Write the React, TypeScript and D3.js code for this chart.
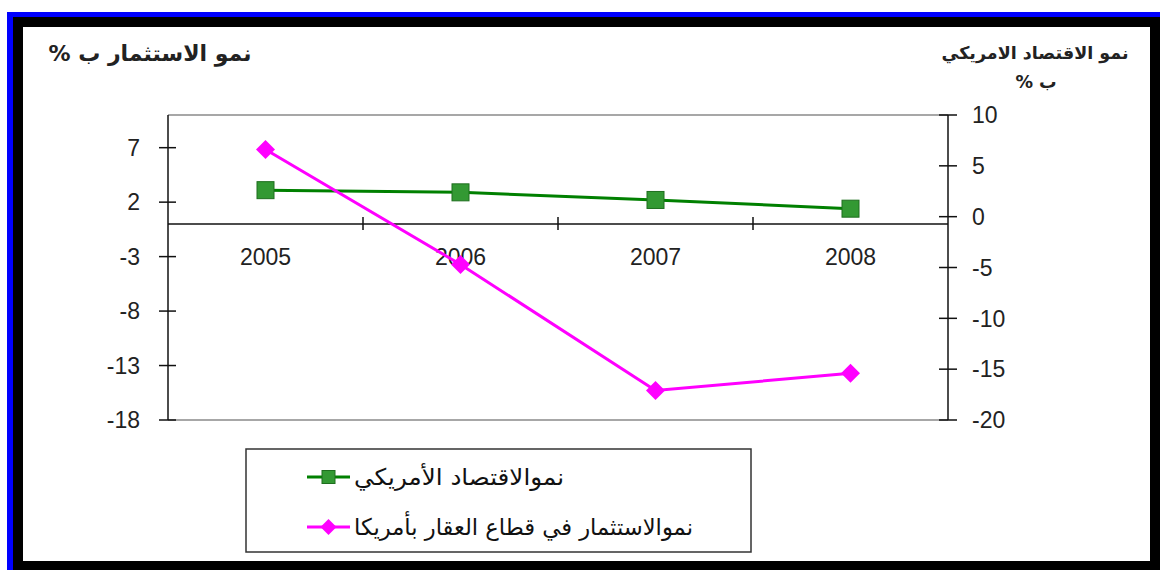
import React from "react";
import * as d3 from "d3";

const years = ["2005", "2006", "2007", "2008"];
const economyGrowth = [3.1, 2.9, 2.2, 1.4]; // left axis
const realEstateGrowth = [6.6, -4.7, -17.1, -15.4]; // right axis
const leftTicks = [-18, -13, -8, -3, 2, 7];
const rightTicks = [-20, -15, -10, -5, 0, 5, 10];
const leftTitle = "نمو الاستثمار ب %";
const rightTitle1 = "نمو الاقتصاد الامريكي";
const rightTitle2 = "ب %";
const seriesNames = ["نموالاقتصاد الأمريكي", "نموالاستثمار في قطاع العقار بأمريكا"];

const W = 1160;
const H = 570;
const plot = { left: 168, right: 948, top: 115, bottom: 420 };
const numFont = "'Liberation Sans', Arial, sans-serif";
const arFont = "'DejaVu Sans', 'Liberation Sans', Arial, sans-serif";
const GREEN = "#008000";
const GREEN_FILL = "#339933";
const GREEN_STROKE = "#1e6e1e";
const PINK = "#ff00ff";

export default function App() {
  const x = d3.scaleBand<string>().domain(years).range([plot.left, plot.right]);
  const cx = (y: string) => (x(y) as number) + x.bandwidth() / 2;
  const yL = d3.scaleLinear().domain([-18, 10]).range([plot.bottom, plot.top]);
  const yR = d3.scaleLinear().domain([-20, 10]).range([plot.bottom, plot.top]);

  const greenLine = d3
    .line<number>()
    .x((_, i) => cx(years[i]))
    .y((d) => yL(d))(economyGrowth) as string;
  const pinkLine = d3
    .line<number>()
    .x((_, i) => cx(years[i]))
    .y((d) => yR(d))(realEstateGrowth) as string;

  const zeroY = yL(0);
  const diamond = (px: number, py: number, r: number) =>
    `M${px},${py - r}L${px + r},${py}L${px},${py + r}L${px - r},${py}Z`;

  const legend = { x: 246, y: 449, w: 505, h: 103 };
  const rows = [legend.y + 28, legend.y + 78];
  const legendWidths = [210, 339];

  return (
    <div style={{ position: "absolute", left: 0, top: 0, width: W, height: H }}>
      <svg width={W} height={H} style={{ display: "block" }}>
        <rect x={0} y={0} width={W} height={H} fill="#ffffff" />
        <rect x={7} y={12} width={W - 7} height={H - 12} fill="#0000ff" />
        <rect x={13} y={17} width={W - 13} height={H - 17} fill="#000000" />
        <rect x={23} y={27} width={1127} height={534} fill="#ffffff" />

        {/* plot area border */}
        <line x1={plot.left} x2={plot.right} y1={plot.top} y2={plot.top} stroke="#8a8a8a" strokeWidth={1.5} />
        <line x1={plot.left} x2={plot.right} y1={plot.bottom} y2={plot.bottom} stroke="#8a8a8a" strokeWidth={1.5} />

        {/* left axis */}
        <line x1={plot.left} x2={plot.left} y1={plot.top} y2={plot.bottom} stroke="#111" strokeWidth={1.5} />
        {leftTicks.map((t) => (
          <g key={"l" + t}>
            <line x1={plot.left - 9} x2={plot.left + 8} y1={yL(t)} y2={yL(t)} stroke="#111" strokeWidth={1.5} />
            <text x={140} y={yL(t)} dy="0.36em" textAnchor="end" fontFamily={numFont} fontSize={23} fill="#222">
              {t}
            </text>
          </g>
        ))}

        {/* right axis */}
        <line x1={plot.right} x2={plot.right} y1={plot.top} y2={plot.bottom} stroke="#111" strokeWidth={1.5} />
        {rightTicks.map((t) => (
          <g key={"r" + t}>
            <line x1={plot.right - 9} x2={plot.right + 9} y1={yR(t)} y2={yR(t)} stroke="#111" strokeWidth={1.5} />
            <text x={972} y={yR(t)} dy="0.36em" textAnchor="start" fontFamily={numFont} fontSize={23} fill="#222">
              {t}
            </text>
          </g>
        ))}

        {/* category axis */}
        <line x1={plot.left} x2={plot.right} y1={zeroY} y2={zeroY} stroke="#111" strokeWidth={1.5} />
        {years.slice(1).map((yr) => (
          <line key={"c" + yr} x1={x(yr) as number} x2={x(yr) as number} y1={zeroY - 7} y2={zeroY + 6} stroke="#111" strokeWidth={1.5} />
        ))}
        {years.map((yr) => (
          <text key={"t" + yr} x={cx(yr)} y={265} textAnchor="middle" fontFamily={numFont} fontSize={23} fill="#222">
            {yr}
          </text>
        ))}

        {/* series */}
        <path d={greenLine} fill="none" stroke={GREEN} strokeWidth={3} />
        {economyGrowth.map((v, i) => (
          <rect key={"g" + i} x={cx(years[i]) - 8.5} y={yL(v) - 8.5} width={17} height={17} fill={GREEN_FILL} stroke={GREEN_STROKE} strokeWidth={1} />
        ))}
        <path d={pinkLine} fill="none" stroke={PINK} strokeWidth={3} />
        {realEstateGrowth.map((v, i) => (
          <path key={"p" + i} d={diamond(cx(years[i]), yR(v), 9.5)} fill={PINK} />
        ))}

        {/* titles */}
        <text x={150} y={61} direction="rtl" textAnchor="middle" fontFamily={arFont} fontWeight="bold" fontSize={22} fill="#222">
          {leftTitle}
        </text>
        <text x={1035} y={59} direction="rtl" textAnchor="middle" fontFamily={arFont} fontWeight="bold" fontSize={17.5} fill="#222">
          {rightTitle1}
        </text>
        <text x={1036} y={88} direction="rtl" textAnchor="middle" fontFamily={arFont} fontWeight="bold" fontSize={17.5} fill="#222">
          {rightTitle2}
        </text>

        {/* legend */}
        <rect x={legend.x} y={legend.y} width={legend.w} height={legend.h} fill="#fff" stroke="#333" strokeWidth={1.5} />
        <line x1={307} x2={350} y1={rows[0]} y2={rows[0]} stroke={GREEN} strokeWidth={3} />
        <rect x={322} y={rows[0] - 6.5} width={13} height={13} fill={GREEN_FILL} stroke={GREEN_STROKE} strokeWidth={1} />
        <line x1={307} x2={350} y1={rows[1]} y2={rows[1]} stroke={PINK} strokeWidth={3} />
        <path d={diamond(328.5, rows[1], 8)} fill={PINK} />
        {seriesNames.map((n, i) => (
          <text
            key={"n" + i}
            x={354}
            y={rows[i]}
            dy="0.35em"
            direction="rtl"
            textAnchor="end"
            fontFamily={arFont}
            fontSize={23}
            textLength={legendWidths[i]}
            lengthAdjust="spacingAndGlyphs"
            fill="#111"
          >
            {n}
          </text>
        ))}
      </svg>
    </div>
  );
}
